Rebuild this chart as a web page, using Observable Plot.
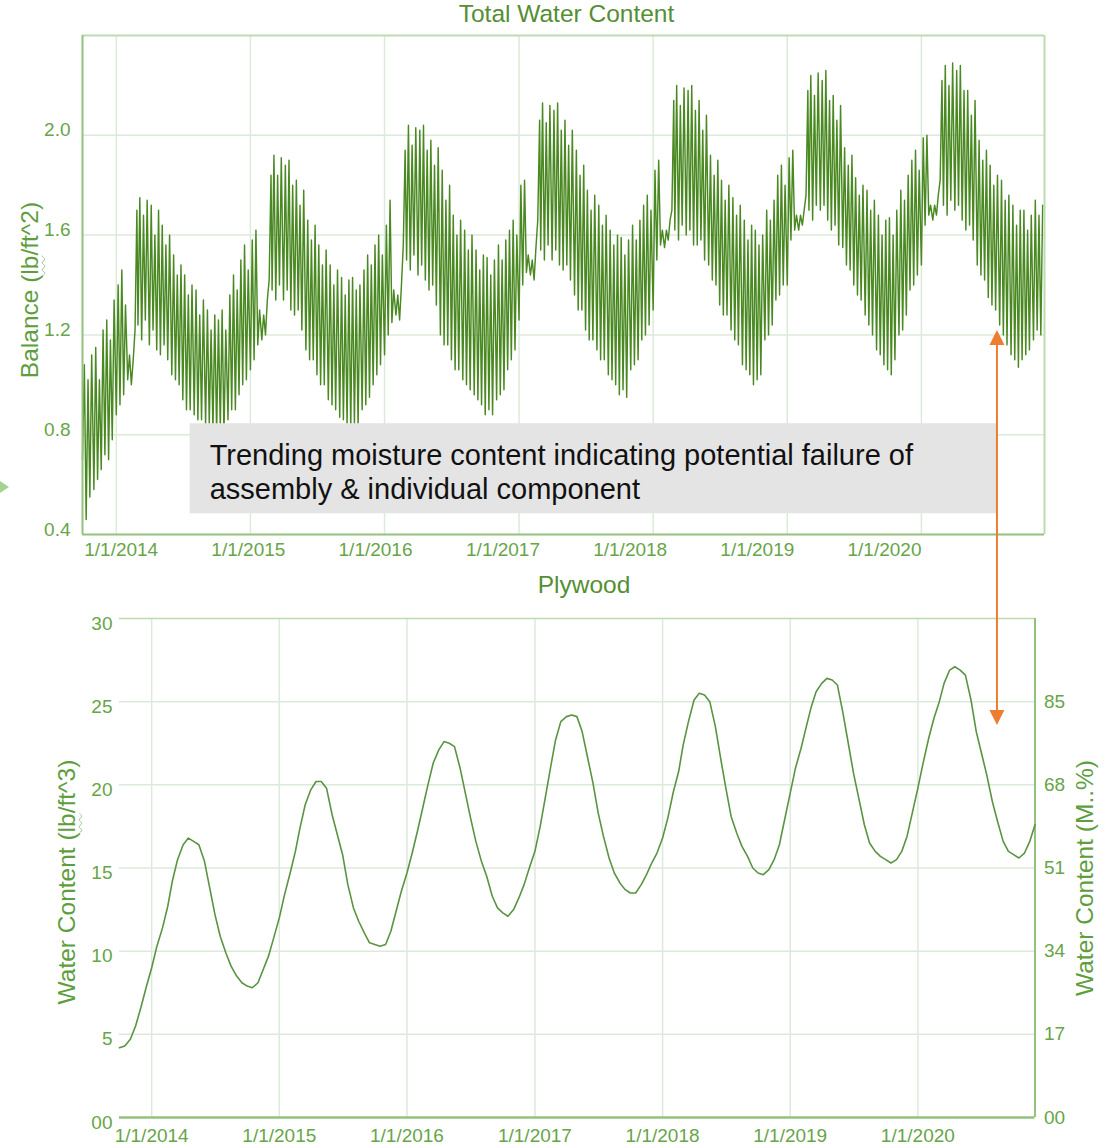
<!DOCTYPE html>
<html><head><meta charset="utf-8">
<script src="https://cdn.jsdelivr.net/npm/d3@7"></script>
<script src="https://cdn.jsdelivr.net/npm/@observablehq/plot@0.6"></script>
<style>
html,body{margin:0;padding:0;background:#fff;}
#wrap{position:relative;width:1111px;height:1148px;overflow:hidden;font-family:"Liberation Sans",Arial,Helvetica,sans-serif;}
.title{position:absolute;font-size:24.5px;line-height:24.5px;color:#558f33;white-space:nowrap;transform:translateX(-50%);}
.ytitle{position:absolute;font-size:24.5px;line-height:24.5px;color:#5e9e3e;white-space:nowrap;transform:translate(-50%,-50%) rotate(-90deg);}
.sq{text-decoration:underline wavy #9cc48c;text-decoration-thickness:1px;text-underline-offset:3px;}
.tri{position:absolute;left:0;top:481px;width:0;height:0;border-left:9px solid #a3d391;border-top:6px solid transparent;border-bottom:6px solid transparent;}
</style></head>
<body><div id="wrap"></div>
<script>
// ---------------- data ----------------
const years = [2014, 2015, 2016, 2017, 2018, 2019, 2020];
const yearLabels = ["1/1/2014", "1/1/2015", "1/1/2016", "1/1/2017", "1/1/2018", "1/1/2019", "1/1/2020"];

const balanceYTicks = [0.4, 0.8, 1.2, 1.6, 2.0];
const balanceYLabels = ["0.4", "0.8", "1.2", "1.6", "2.0"];
const plywoodYTicks = [0, 5, 10, 15, 20, 25, 30];
const plywoodYLabels = ["00", "5", "10", "15", "20", "25", "30"];
const mcTicks = [0, 5, 10, 15, 20, 25];
const mcLabels = ["00", "17", "34", "51", "68", "85"];

// Total water content (lb/ft^2): six readings per month (days 1,6,11,16,21,26), low/high alternating
const balance2013 = [ // Oct-Dec
  0.70,1.08,0.46,1.02,0.55,1.12, 0.58,1.15,0.62,1.02,0.66,1.22, 0.72,1.26,0.70,1.18,0.78,1.34];
const balance2014 = [
  0.88,1.40,0.92,1.46,0.96,1.32, 1.02,1.12,1.00,1.10,1.22,1.70, 1.24,1.75,1.18,1.68,1.26,1.74,
  1.16,1.72,1.22,1.60,1.14,1.70, 1.12,1.64,1.16,1.56,1.10,1.60, 1.04,1.52,1.02,1.44,1.00,1.48,
  0.94,1.44,0.90,1.36,0.90,1.40, 0.88,1.38,0.86,1.28,0.86,1.34, 0.84,1.30,0.84,1.22,0.82,1.28,
  0.80,1.26,0.82,1.30,0.80,1.22, 0.86,1.36,0.90,1.44,0.90,1.38, 0.96,1.50,1.00,1.56,1.02,1.46];
const balance2015 = [
  1.06,1.58,1.10,1.62,1.16,1.30, 1.18,1.28,1.20,1.34,1.42,1.84, 1.38,1.92,1.34,1.84,1.40,1.91,
  1.34,1.88,1.38,1.90,1.30,1.80, 1.28,1.82,1.30,1.72,1.22,1.78, 1.14,1.66,1.10,1.58,1.10,1.64,
  1.04,1.56,1.00,1.48,1.00,1.54, 0.94,1.48,0.92,1.40,0.90,1.46, 0.87,1.43,0.86,1.36,0.84,1.42,
  0.82,1.43,0.84,1.38,0.83,1.40, 0.90,1.46,0.92,1.52,0.95,1.48, 1.00,1.56,1.04,1.60,1.08,1.52];
const balance2016 = [
  1.12,1.64,1.20,1.74,1.25,1.38, 1.28,1.36,1.26,1.40,1.56,1.94, 1.50,2.04,1.46,1.96,1.52,2.03,
  1.44,2.02,1.48,2.04,1.42,1.94, 1.38,1.98,1.40,1.88,1.32,1.95, 1.20,1.86,1.16,1.74,1.16,1.80,
  1.10,1.68,1.06,1.60,1.06,1.66, 1.02,1.62,1.00,1.54,0.98,1.60, 0.96,1.54,0.94,1.46,0.92,1.52,
  0.88,1.51,0.90,1.44,0.88,1.50, 0.94,1.56,0.96,1.50,0.98,1.58, 1.06,1.62,1.10,1.66,1.14,1.60];
const balance2017 = [
  1.26,1.80,1.40,1.82,1.45,1.52, 1.44,1.50,1.42,1.55,1.66,2.06, 1.54,2.13,1.50,2.05,1.56,2.12,
  1.50,2.10,1.54,2.13,1.48,2.02, 1.46,2.06,1.48,1.96,1.42,2.02, 1.36,1.94,1.30,1.84,1.30,1.88,
  1.22,1.78,1.18,1.70,1.18,1.76, 1.14,1.72,1.10,1.64,1.10,1.68, 1.04,1.62,1.02,1.56,1.00,1.60,
  0.96,1.59,0.98,1.52,0.95,1.58, 1.06,1.64,1.08,1.58,1.10,1.66, 1.18,1.72,1.20,1.76,1.24,1.70];
const balance2018 = [
  1.30,1.86,1.50,1.90,1.56,1.62, 1.55,1.62,1.58,1.66,1.70,2.14, 1.62,2.20,1.58,2.12,1.64,2.19,
  1.60,2.18,1.62,2.20,1.56,2.10, 1.56,2.14,1.58,2.02,1.50,2.08, 1.48,1.92,1.42,1.84,1.40,1.90,
  1.32,1.82,1.28,1.74,1.28,1.80, 1.22,1.75,1.18,1.68,1.16,1.72, 1.08,1.66,1.06,1.58,1.04,1.64,
  1.00,1.62,1.02,1.56,1.04,1.60, 1.18,1.70,1.20,1.66,1.24,1.74, 1.34,1.84,1.36,1.88,1.40,1.80];
const balance2019 = [
  1.40,1.91,1.58,1.94,1.62,1.68, 1.62,1.68,1.64,1.70,1.76,2.18, 1.70,2.24,1.66,2.16,1.72,2.25,
  1.70,2.22,1.72,2.26,1.66,2.14, 1.62,2.16,1.64,2.06,1.56,2.12, 1.55,1.95,1.48,1.88,1.46,1.92,
  1.40,1.83,1.36,1.76,1.34,1.80, 1.28,1.78,1.24,1.70,1.20,1.74, 1.14,1.68,1.12,1.60,1.08,1.66,
  1.06,1.67,1.04,1.60,1.10,1.70, 1.20,1.78,1.22,1.74,1.28,1.84, 1.38,1.90,1.40,1.94,1.44,1.86];
const balance2020 = [ // Jan-Nov
  1.48,1.99,1.64,2.00,1.68,1.72, 1.66,1.72,1.68,1.76,1.82,2.22, 1.72,2.28,1.68,2.20,1.74,2.29,
  1.70,2.26,1.72,2.28,1.66,2.18, 1.62,2.18,1.64,2.08,1.58,2.14, 1.48,1.98,1.44,1.90,1.42,1.94,
  1.35,1.88,1.32,1.80,1.30,1.84, 1.24,1.82,1.20,1.74,1.16,1.76, 1.12,1.72,1.10,1.64,1.07,1.70,
  1.10,1.70,1.12,1.62,1.14,1.68, 1.18,1.74,1.22,1.68,1.20,1.72];

// Plywood water content (lb/ft^3): readings on the 1st and 16th of each month
const plywood2013 = [4.2,4.3, 4.7,5.5, 6.6,7.8]; // Oct-Dec
const plywood2014 = [9.0,10.3, 11.4,12.7, 14.2,15.5, 16.4,16.8, 16.6,16.4, 15.4,13.8, 12.2,10.9, 9.9,9.1, 8.5,8.1, 7.9,7.8, 8.1,8.9, 9.7,10.8];
const plywood2015 = [12.0,13.4, 14.7,16.0, 17.4,18.8, 19.7,20.2, 20.2,19.8, 18.2,17.0, 15.8,14.0, 12.6,11.8, 11.1,10.5, 10.4,10.3, 10.4,11.2, 12.4,13.6];
const plywood2016 = [14.7,15.9, 17.3,18.7, 20.0,21.3, 22.1,22.6, 22.5,22.3, 21.0,19.5, 18.0,16.6, 15.4,14.5, 13.3,12.6, 12.3,12.1, 12.5,13.2, 14.0,15.0];
const plywood2017 = [16.0,17.5, 19.4,21.2, 22.7,23.8, 24.1,24.2, 24.1,23.2, 21.6,20.1, 18.3,16.9, 15.6,14.7, 14.1,13.7, 13.5,13.5, 14.0,14.6, 15.3,15.9];
const plywood2018 = [16.8,18.0, 19.6,20.8, 22.4,23.8, 25.1,25.5, 25.4,25.0, 23.5,21.6, 19.8,18.1, 17.1,16.3, 15.7,15.0, 14.7,14.6, 14.9,15.5, 16.4,17.9];
const plywood2019 = [19.5,21.0, 22.2,23.5, 24.6,25.6, 26.1,26.4, 26.3,26.0, 24.3,22.5, 20.7,19.2, 17.6,16.5, 16.0,15.7, 15.5,15.3, 15.5,16.0, 16.9,18.3];
const plywood2020 = [19.8,21.3, 22.8,24.0, 24.9,26.1, 26.9,27.1, 26.9,26.6, 25.1,23.2, 21.9,20.6, 19.0,17.8, 16.6,16.0, 15.8,15.6, 15.9,16.6, 17.6]; // to Dec 1

// annotation
const noteLines = ["Trending moisture content indicating potential failure of", "assembly & individual component"];
const noteBox = {start: "2014-07-21", end: "2020-07-26", low: 0.483, high: 0.844, textStart: "2014-09-12", textTop: 0.772};
const arrowDate = "2020-07-26", arrowTopValue = 1.218, arrowBottomValue = 23.57;
const startDate = "2013-10-01", endDate = "2020-12-01";

// ---------------- build tables ----------------
const D = s => new Date(s + "T00:00:00Z");
const balanceYears = [[2013, 9, balance2013], [2014, 0, balance2014], [2015, 0, balance2015], [2016, 0, balance2016],
  [2017, 0, balance2017], [2018, 0, balance2018], [2019, 0, balance2019], [2020, 0, balance2020]];
const balance = balanceYears.flatMap(([y, m0, vals]) => vals.map((v, i) => ({
  date: new Date(Date.UTC(y, m0 + Math.floor(i / 6), 1 + 5 * (i % 6))), value: v})));
const plywoodYears = [[2013, 9, plywood2013], [2014, 0, plywood2014], [2015, 0, plywood2015], [2016, 0, plywood2016],
  [2017, 0, plywood2017], [2018, 0, plywood2018], [2019, 0, plywood2019], [2020, 0, plywood2020]];
const plywood = plywoodYears.flatMap(([y, m0, vals]) => vals.map((v, i) => ({
  date: new Date(Date.UTC(y, m0 + Math.floor(i / 2), i % 2 ? 16 : 1)), value: v})));
const yearDates = years.map(y => new Date(Date.UTC(y, 0, 1)));
const yearLabelOf = new Map(years.map((y, i) => [y, yearLabels[i]]));
const fmtYear = d => yearLabelOf.get(d.getUTCFullYear());
const balLabelOf = new Map(balanceYTicks.map((t, i) => [t, balanceYLabels[i]]));
const plyLabelOf = new Map(plywoodYTicks.map((t, i) => [t, plywoodYLabels[i]]));
const mcLabelOf = new Map(mcTicks.map((t, i) => [t, mcLabels[i]]));
const note = [{x1: D(noteBox.start), x2: D(noteBox.end), y1: noteBox.low, y2: noteBox.high,
  tx: D(noteBox.textStart), ty: noteBox.textTop, text: noteLines.join("\n")}];

// ---------------- styles ----------------
const FONT = '"Liberation Sans", Arial, Helvetica, sans-serif';
const lineTop = "#4a8922", lineBot = "#5a9342";
const gridC = "#dceadb", frameLight = "#bddbb0", frameDark = "#93c27e", tickC = "#67a547";
const d0 = D(startDate), d1 = D(endDate);
const wrap = document.getElementById("wrap");
function place(node, left, top) {
  node.style.position = "absolute"; node.style.left = left + "px"; node.style.top = top + "px";
  wrap.appendChild(node); return node;
}
function div(cls, html, left, top) {
  const e = document.createElement("div"); e.className = cls; e.innerHTML = html;
  e.style.left = left + "px"; e.style.top = top + "px"; wrap.appendChild(e); return e;
}

// ---------------- top chart ----------------
const topY = 0;
const topPlot = Plot.plot({
  width: 1111, height: 570,
  marginTop: 35, marginRight: 67, marginBottom: 36, marginLeft: 82,
  style: {background: "transparent", overflow: "visible", fontFamily: FONT},
  x: {type: "utc", domain: [d0, d1], axis: null},
  y: {domain: [0.4, 2.4]},
  marks: [
    Plot.ruleX(yearDates, {stroke: gridC, strokeWidth: 1.5}),
    Plot.ruleY([0.8, 1.2, 1.6, 2.0], {stroke: gridC, strokeWidth: 1.5}),
    Plot.line(balance, {x: "date", y: "value", stroke: lineTop, strokeWidth: 1.45}),
    Plot.rect(note, {x1: "x1", x2: "x2", y1: "y1", y2: "y2", fill: "#e4e4e4"}),
    Plot.text(note, {x: "tx", y: "ty", text: "text", textAnchor: "start", lineAnchor: "top",
      lineHeight: 1.155, fontSize: 29, fill: "#111"}),
    Plot.ruleY([2.4], {stroke: frameLight, strokeWidth: 2}),
    Plot.ruleX([d1], {stroke: frameLight, strokeWidth: 2}),
    Plot.ruleY([0.4], {stroke: frameDark, strokeWidth: 2}),
    Plot.ruleX([d0], {stroke: frameDark, strokeWidth: 2}),
    Plot.axisY(balanceYTicks, {tickSize: 0, tickPadding: 12, tickFormat: d => balLabelOf.get(d),
      fontSize: 19, color: tickC, dy: -5, label: null})
  ]
});
place(topPlot, 0, topY);

// date labels under the top chart
const topLabels = Plot.plot({
  width: 1111, height: 40, marginTop: 0, marginBottom: 38, marginLeft: 0, marginRight: 0,
  style: {background: "transparent", overflow: "visible", fontFamily: FONT},
  x: {type: "utc", domain: [yearDates[0], yearDates[6]], range: [120.7, 884]},
  marks: [Plot.axisX(yearDates, {tickSize: 0, tickPadding: 6, tickFormat: fmtYear, fontSize: 19, color: tickC, label: null})]
});
place(topLabels, 0, 534);

// ---------------- bottom chart ----------------
const botY = 600;
const botPlot = Plot.plot({
  width: 1111, height: 548,
  marginTop: 18, marginRight: 76.5, marginBottom: 31, marginLeft: 119,
  style: {background: "transparent", overflow: "visible", fontFamily: FONT},
  x: {type: "utc", domain: [d0, d1]},
  y: {domain: [0, 30]},
  marks: [
    Plot.ruleX(yearDates, {stroke: gridC, strokeWidth: 1.5}),
    Plot.ruleY([5, 10, 15, 20, 25], {stroke: gridC, strokeWidth: 1.5}),
    Plot.ruleY([30], {stroke: frameLight, strokeWidth: 1.5}),
    Plot.ruleY([0], {stroke: frameDark, strokeWidth: 2.5}),
    Plot.ruleX([d1], {stroke: frameDark, strokeWidth: 2}),
    Plot.line(plywood, {x: "date", y: "value", stroke: lineBot, strokeWidth: 1.6}),
    Plot.axisY(plywoodYTicks, {anchor: "left", tickSize: 0, tickPadding: 7, tickFormat: d => plyLabelOf.get(d),
      fontSize: 19, color: tickC, dy: 5, label: null}),
    Plot.axisY(mcTicks, {anchor: "right", tickSize: 0, tickPadding: 9, tickFormat: d => mcLabelOf.get(d),
      fontSize: 19, color: tickC, label: null}),
    Plot.axisX(yearDates, {tickSize: 0, tickPadding: 11, tickFormat: fmtYear, fontSize: 19, color: tickC, label: null})
  ]
});
place(botPlot, 0, botY);

// ---------------- titles ----------------
div("title", "Total Water Content", 566.5, 2);
div("title", "Plywood", 584, 572.6);
div("ytitle", 'Balance (<span class="sq">lb</span>/ft^2)', 29.5, 290);
div("ytitle", 'Water Content (<span class="sq">lb</span>/ft^3)', 67, 882);
div("ytitle", "Water Content (M..%)", 1084.5, 878);
const tri = document.createElement("div"); tri.className = "tri"; wrap.appendChild(tri);

// ---------------- arrow (positions from the charts' scales) ----------------
const ax = topPlot.scale("x").apply(D(arrowDate));
const ay1 = topY + topPlot.scale("y").apply(arrowTopValue);
const ay2 = botY + botPlot.scale("y").apply(arrowBottomValue);
const orange = "#ed7d31", head = 15, half = 7.5;
const ov = d3.create("svg").attr("width", 1111).attr("height", 1148)
  .style("position", "absolute").style("left", "0px").style("top", "0px").style("pointer-events", "none");
ov.append("line").attr("x1", ax).attr("x2", ax).attr("y1", ay1 + head - 1).attr("y2", ay2 - head + 1)
  .attr("stroke", orange).attr("stroke-width", 2);
ov.append("path").attr("d", `M${ax},${ay1}L${ax - half},${ay1 + head}L${ax + half},${ay1 + head}Z`).attr("fill", orange);
ov.append("path").attr("d", `M${ax},${ay2}L${ax - half},${ay2 - head}L${ax + half},${ay2 - head}Z`).attr("fill", orange);
wrap.appendChild(ov.node());
</script></body></html>
